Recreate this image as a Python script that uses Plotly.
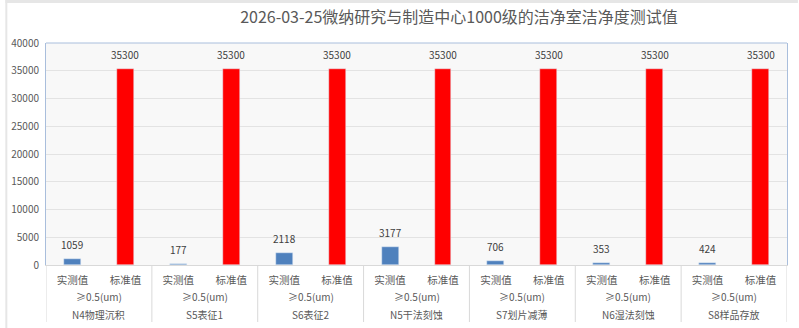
import plotly.graph_objects as go

title_text = "2026-03-25微纳研究与制造中心1000级的洁净室洁净度测试值"
rooms = ["N4物理沉积", "S5表征1", "S6表征2", "N5干法刻蚀", "S7划片减薄", "N6湿法刻蚀", "S8样品存放"]
series_names = ["实测值", "标准值"]
particle_size = "≥0.5(um)"
measured = [1059, 177, 2118, 3177, 706, 353, 424]
standard = [35300, 35300, 35300, 35300, 35300, 35300, 35300]
y_ticks = [0, 5000, 10000, 15000, 20000, 25000, 30000, 35000, 40000]

FONT = "Noto Sans CJK SC"
GREY = "#595959"
n = len(rooms)
x_meas = [2 * i for i in range(n)]
x_std = [2 * i + 1 for i in range(n)]

L, R, T, B = 41, 11, 43, 63
W, H = 799, 328
pw, ph = W - L - R, H - T - B

fig = go.Figure()
fig.add_trace(go.Bar(x=x_meas, y=measured, width=0.32, marker_color="#4F81BD",
                     name=series_names[0]))
fig.add_trace(go.Bar(x=x_std, y=standard, width=0.32, marker_color="#FF0000",
                     name=series_names[1]))

shapes = []
annotations = []
# value labels
for xs, ys in ((x_meas, measured), (x_std, standard)):
    for xv, yv in zip(xs, ys):
        annotations.append(dict(text=str(yv), x=xv, y=yv, xref="x", yref="y", showarrow=False,
                                yanchor="bottom", yshift=5,
                                font=dict(size=10, color="#404040", family=FONT)))
# group dividers below axis
for k in range(n + 1):
    shapes.append(dict(type="line", xref="x", yref="paper", x0=2 * k - 0.5, x1=2 * k - 0.5,
                       y0=0, y1=-(322 - 265) / ph, line=dict(color="#d9d9d9", width=1)))
for i, room in enumerate(rooms):
    cx = 2 * i + 0.5
    annotations.append(dict(text=particle_size, x=cx, xref="x", y=-(296 - 265) / ph, yref="paper",
                            showarrow=False, font=dict(size=10, color=GREY, family=FONT),
                            xanchor="center", yanchor="middle"))
    annotations.append(dict(text=room, x=cx, xref="x", y=-(314 - 265) / ph, yref="paper",
                            showarrow=False, font=dict(size=10, color=GREY, family=FONT),
                            xanchor="center", yanchor="middle"))
# top border of plot
shapes.append(dict(type="line", xref="paper", yref="paper", x0=0, x1=1, y0=1, y1=1,
                   line=dict(color="#A9BEDC", width=1)))
# outer frame strips
shapes.append(dict(type="rect", xref="paper", yref="paper", x0=-L / pw, x1=1 + R / pw,
                   y0=1 + (T - 3) / ph, y1=1 + T / ph, fillcolor="#e6e6e6", line=dict(width=0), layer="below"))
shapes.append(dict(type="rect", xref="paper", yref="paper", x0=-L / pw, x1=-(L - 2) / pw,
                   y0=-B / ph, y1=1 + T / ph, fillcolor="#e6e6e6", line=dict(width=0), layer="below"))

fig.update_layout(
    width=W, height=H,
    margin=dict(l=L, r=R, t=T, b=B),
    paper_bgcolor="white", plot_bgcolor="#f8f8f8",
    showlegend=False, bargap=0,
    font=dict(family=FONT, color=GREY),
    title=dict(text=title_text, x=459 / W, xanchor="center", y=1 - 17 / H, yanchor="middle",
               xref="container", yref="container",
               font=dict(size=16, color=GREY, family=FONT)),
    xaxis=dict(range=[-0.5, 2 * n - 0.5], tickvals=list(range(2 * n)),
               ticktext=[series_names[j % 2] for j in range(2 * n)],
               tickfont=dict(size=10.5, color=GREY, family=FONT), ticks="",
               showgrid=False, zeroline=False, showline=True, linecolor="#d9d9d9",
               ticklabelstandoff=5),
    yaxis=dict(range=[0, 40000], tickvals=y_ticks, ticktext=[str(v) for v in y_ticks],
               tickfont=dict(size=10, color=GREY, family=FONT),
               gridcolor="#e3e3e3", zeroline=False, showline=True, mirror=True,
               linecolor="#A9BEDC", ticks="", ticklabelstandoff=4),
    shapes=shapes, annotations=annotations,
)
fig.write_html("out.html")
